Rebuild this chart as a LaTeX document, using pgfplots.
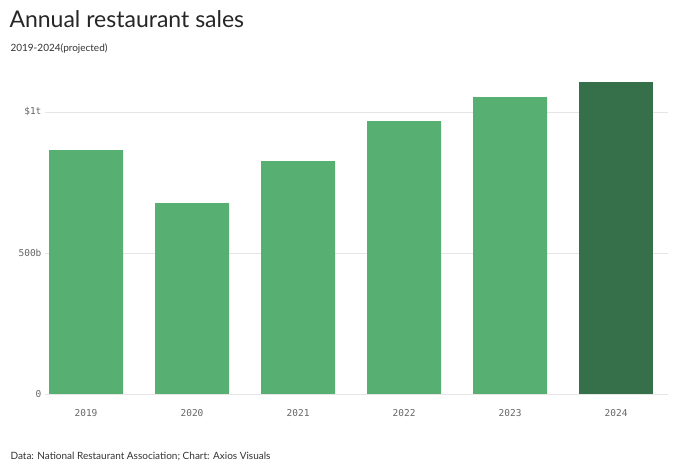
\documentclass[border=0pt]{standalone}
\usepackage{pgfplots}
\pgfplotsset{compat=1.18}
\usepackage{fontspec}
\setmainfont{Lato}
\newfontfamily\mono{DejaVu Sans Mono}
\definecolor{lg}{HTML}{57AF72}
\definecolor{dg}{HTML}{36704A}
\definecolor{tx}{HTML}{666666}
\begin{document}
\begin{tikzpicture}[x=1pt,y=1pt]
\path (0,0) rectangle (680,474);
\node[anchor=west,font=\fontsize{23}{25}\selectfont,text=black!85] at (6,455) {Annual restaurant sales};
\node[anchor=west,font=\fontsize{10}{12}\selectfont,text=black!80] at (7,425) {2019-2024(projected)};
\node[anchor=west,font=\fontsize{10}{12}\selectfont,text=black!80] at (7,18) {Data: National Restaurant Association; Chart: Axios Visuals};
\begin{axis}[at={(45pt,80pt)},anchor=south west,scale only axis,
 width=623pt,height=324.3pt,
 xmin=-0.387,xmax=5.49,ymin=0,ymax=1150,
 axis line style={draw=none},
 ytick={0,500,1000},yticklabels={0,500b,\$1t},
 xtick={0,...,5},xticklabels={2019,2020,2021,2022,2023,2024},
 ymajorgrids,grid style={draw=black!10,line width=0.8pt},
 major tick length=0pt,
 ticklabel style={font=\mono\fontsize{9.5}{11}\selectfont,text=tx},
 xticklabel style={yshift=-12pt},
 ybar,bar width=74pt,bar shift=0pt]
\addplot[fill=lg,draw=none] coordinates {(0,865) (1,677) (2,826) (3,968) (4,1053)};
\addplot[fill=dg,draw=none] coordinates {(5,1106)};
\end{axis}
\end{tikzpicture}
\end{document}
